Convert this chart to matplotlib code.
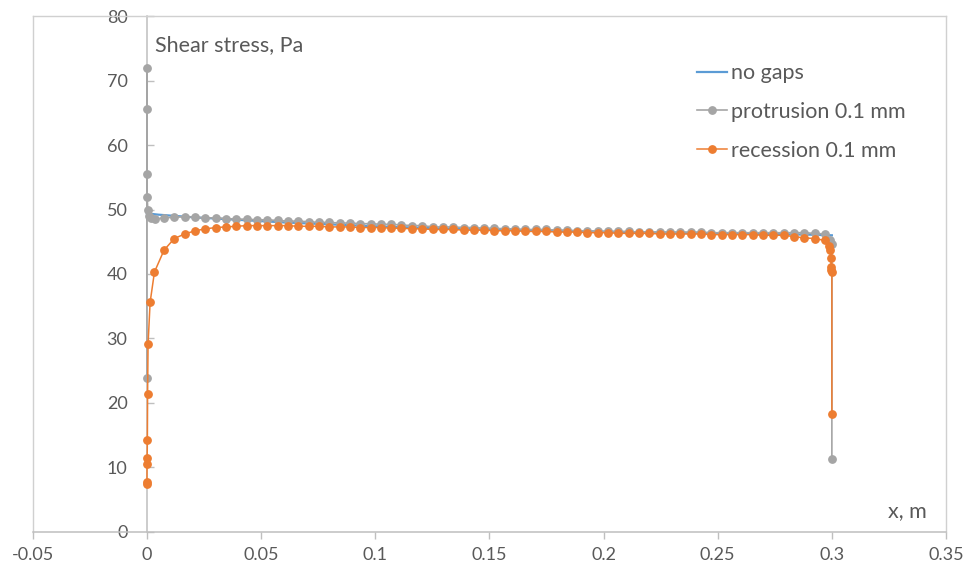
import matplotlib
matplotlib.use("Agg")
import matplotlib.pyplot as plt
from matplotlib.lines import Line2D

plt.rcParams['font.family'] = ['Lato', 'DejaVu Sans']

# ---- data -------------------------------------------------------------
# "no gaps" reference line
x_nogaps = [0.0, 0.005, 0.02, 0.04, 0.06, 0.08, 0.10, 0.125, 0.15, 0.18,
            0.21, 0.24, 0.27, 0.29, 0.30]
y_nogaps = [49.4, 49.2, 48.8, 48.4, 48.0, 47.7, 47.4, 47.1, 46.9, 46.7,
            46.5, 46.35, 46.2, 46.1, 46.0]

# cell centres of the uniform part of the mesh
x_mesh = [0.0075, 0.0120, 0.0165, 0.0211, 0.0256, 0.0301, 0.0346, 0.0392, 0.0437, 0.0482,
          0.0527, 0.0573, 0.0618, 0.0663, 0.0708, 0.0753, 0.0799, 0.0844, 0.0889, 0.0934,
          0.0980, 0.1025, 0.1070, 0.1115, 0.1161, 0.1206, 0.1251, 0.1296, 0.1341, 0.1387,
          0.1432, 0.1477, 0.1522, 0.1568, 0.1613, 0.1658, 0.1703, 0.1749, 0.1794, 0.1839,
          0.1884, 0.1929, 0.1975, 0.2020, 0.2065, 0.2110, 0.2156, 0.2201, 0.2246, 0.2291,
          0.2337, 0.2382, 0.2427, 0.2472, 0.2517, 0.2563, 0.2608, 0.2653, 0.2698, 0.2744,
          0.2789, 0.2834, 0.2879, 0.2924, 0.2970]

# protrusion 0.1 mm
x_prot_lead = [0.0, 0.0, 0.00001, 0.00003, 0.0001, 0.0004, 0.0007, 0.0019, 0.0036]
y_prot_lead = [23.8, 72.0, 65.6, 55.5, 51.9, 50.0, 49.0, 48.7, 48.5]
y_prot_mesh = [48.7, 48.8, 48.9, 48.8, 48.7, 48.7, 48.6, 48.5, 48.5, 48.4,
               48.4, 48.3, 48.2, 48.2, 48.1, 48.0, 48.0, 47.9, 47.9, 47.8,
               47.8, 47.7, 47.7, 47.6, 47.5, 47.5, 47.3, 47.3, 47.3, 47.2,
               47.2, 47.1, 47.1, 47.0, 47.0, 46.9, 46.9, 46.9, 46.8, 46.8,
               46.7, 46.7, 46.6, 46.6, 46.6, 46.6, 46.5, 46.5, 46.5, 46.5,
               46.5, 46.5, 46.5, 46.4, 46.4, 46.4, 46.4, 46.4, 46.4, 46.4,
               46.4, 46.4, 46.4, 46.3, 46.2]
x_prot_trail = [0.2990, 0.3000, 0.3000]
y_prot_trail = [45.2, 44.6, 11.3]

# recession 0.1 mm
x_rec_lead = [0.0, 0.00002, 0.00005, 0.0001, 0.0002, 0.0003, 0.0005, 0.0014, 0.0033]
y_rec_lead = [7.4, 7.8, 10.5, 11.5, 14.3, 21.4, 29.1, 35.6, 40.3]
y_rec_mesh = [43.7, 45.5, 46.2, 46.7, 47.0, 47.2, 47.3, 47.4, 47.5, 47.5,
              47.5, 47.5, 47.5, 47.4, 47.4, 47.4, 47.3, 47.3, 47.3, 47.2,
              47.2, 47.2, 47.1, 47.1, 47.0, 47.0, 46.9, 46.9, 46.9, 46.8,
              46.8, 46.8, 46.7, 46.7, 46.7, 46.6, 46.6, 46.6, 46.5, 46.5,
              46.5, 46.4, 46.4, 46.4, 46.3, 46.3, 46.3, 46.3, 46.2, 46.2,
              46.2, 46.2, 46.2, 46.1, 46.1, 46.1, 46.1, 46.1, 46.0, 46.0,
              46.0, 45.8, 45.6, 45.5, 45.2]
x_rec_trail = [0.2989, 0.2993, 0.2995, 0.2997, 0.2998, 0.3000, 0.3000]
y_rec_trail = [44.4, 43.7, 42.5, 41.1, 40.6, 40.3, 18.3]

x_ticks = [-0.05, 0, 0.05, 0.1, 0.15, 0.2, 0.25, 0.3, 0.35]
x_ticklabels = ['-0.05', '0', '0.05', '0.1', '0.15', '0.2', '0.25', '0.3', '0.35']
y_ticks = [0, 10, 20, 30, 40, 50, 60, 70, 80]

# ---- style ------------------------------------------------------------
BLUE = '#5B9BD5'
GREY = '#A5A5A5'
ORANGE = '#ED7D31'
TEXT = '#595959'
AXIS = '#BFBFBF'
FRAME = '#D0D0D0'

fig = plt.figure(figsize=(9.69, 5.74), dpi=100)
ax = fig.add_axes([0.0338, 0.0732, 0.9425, 0.8989])

ax.plot(x_nogaps, y_nogaps, color=BLUE, lw=1.6, label='no gaps', zorder=3)
ax.plot(x_prot_lead + x_mesh + x_prot_trail,
        y_prot_lead + y_prot_mesh + y_prot_trail,
        color=GREY, lw=1.2, marker='o', ms=5.3, mec=GREY, mfc=GREY,
        label='protrusion 0.1 mm', zorder=4)
ax.plot(x_rec_lead + x_mesh + x_rec_trail,
        y_rec_lead + y_rec_mesh + y_rec_trail,
        color=ORANGE, lw=1.1, marker='o', ms=5.3, mec=ORANGE, mfc=ORANGE,
        label='recession 0.1 mm', zorder=5)

ax.set_xlim(-0.05, 0.35)
ax.set_ylim(0, 80)
ax.set_xticks(x_ticks)
ax.set_xticklabels(x_ticklabels)
ax.set_yticks(y_ticks)

# vertical axis crosses at x = 0, frame drawn around the plot area
ax.spines['left'].set_position(('data', 0))
for side in ('left', 'bottom'):
    ax.spines[side].set_color(AXIS)
    ax.spines[side].set_linewidth(1.1)
for side in ('top', 'right'):
    ax.spines[side].set_color(FRAME)
    ax.spines[side].set_linewidth(1.0)
ax.add_line(Line2D([0, 0], [0, 1], transform=ax.transAxes, color=FRAME,
                   lw=1.0, clip_on=False, zorder=1))

ax.tick_params(axis='x', direction='out', length=5, width=1.0, color=AXIS,
               labelcolor=TEXT, labelsize=13, pad=6)
ax.tick_params(axis='y', direction='in', length=5, width=1.0, color=AXIS,
               labelcolor=TEXT, labelsize=13, pad=14)

ax.text(0.1338, 0.944, 'Shear stress, Pa', transform=ax.transAxes,
        ha='left', va='center', color=TEXT, fontsize=15.5)
ax.text(0.979, 0.041, 'x, m', transform=ax.transAxes,
        ha='right', va='center', color=TEXT, fontsize=15.5)

leg = ax.legend(loc='upper left', bbox_to_anchor=(0.727, 0.908), frameon=False,
                fontsize=15.5, handlelength=1.4, handletextpad=0.2,
                labelspacing=0.86, borderaxespad=0, borderpad=0)
for t in leg.get_texts():
    t.set_color(TEXT)

fig.savefig('out.png', dpi=100)
